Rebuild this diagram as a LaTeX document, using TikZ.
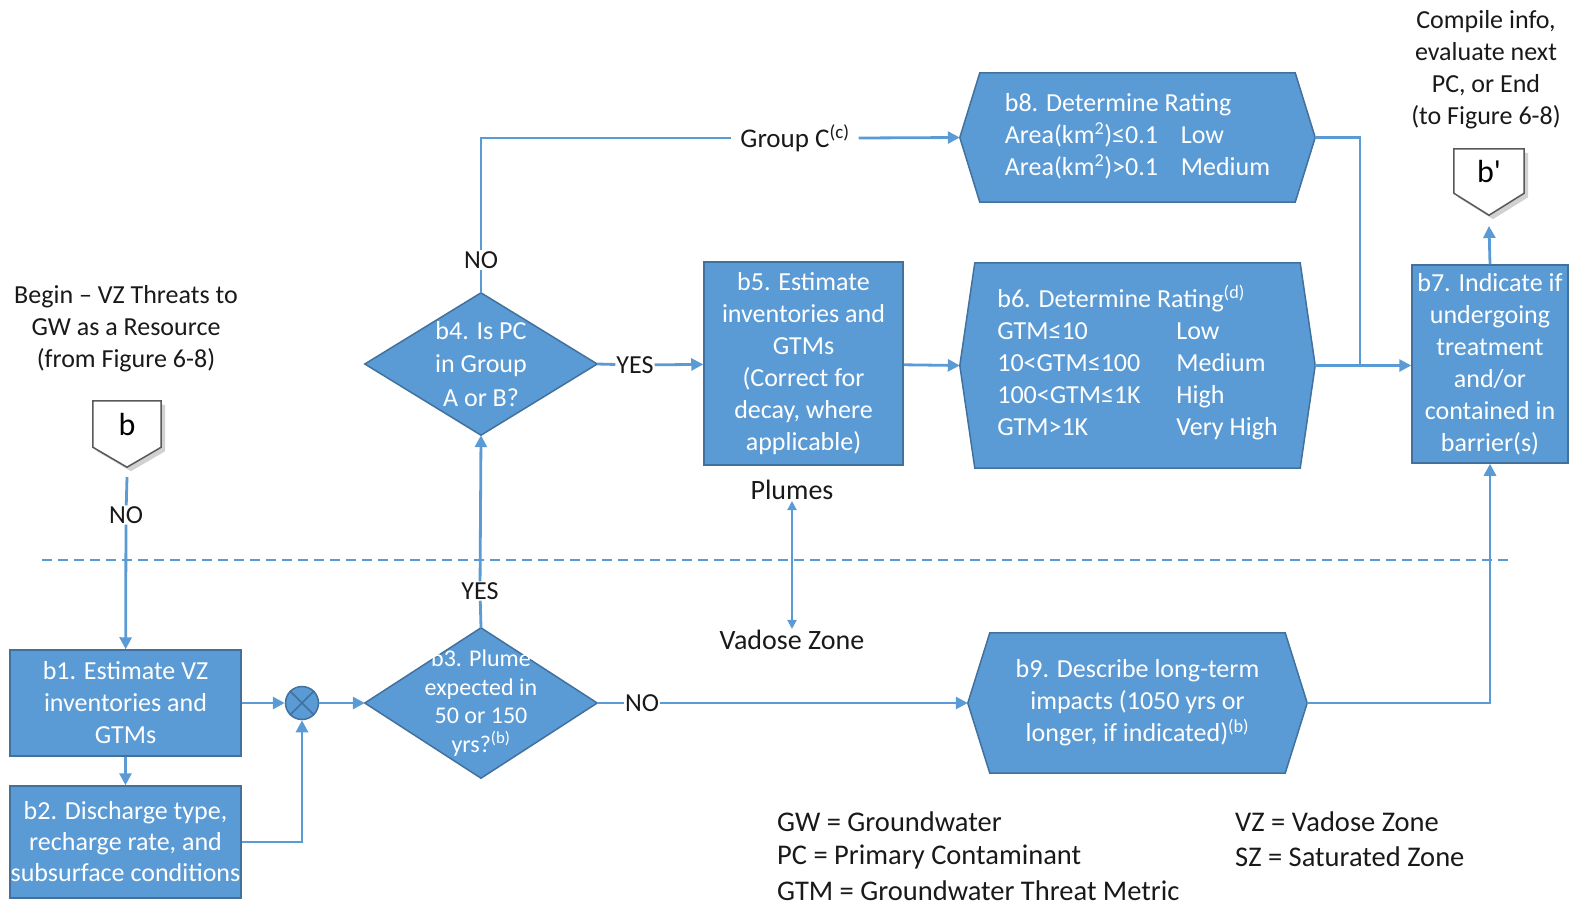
\documentclass[tikz,border=0pt]{standalone}
\usepackage{fontspec}
\setmainfont{Carlito}
\usetikzlibrary{arrows.meta,calc,backgrounds}
\definecolor{boxblue}{HTML}{5B9BD5}
\definecolor{boxedge}{HTML}{41719C}
\definecolor{lineblue}{HTML}{5B9BD5}
\definecolor{pentedge}{HTML}{595959}
\newcommand\fsz[2]{\fontsize{#1}{#2}\selectfont}
\begin{document}
\begin{tikzpicture}[x=1pt,y=-1pt,
  box/.style={rectangle, fill=boxblue, draw=boxedge, line width=1.5pt, text=white, align=center, inner sep=0pt, font=\fsz{26}{32}},
  shapetxt/.style={inner sep=0pt, text=white, font=\fsz{26}{32}},
  shapeline/.style={fill=boxblue, draw=boxedge, line width=1.5pt, line join=miter},
  conn/.style={draw=lineblue, line width=2.8pt},
  arr/.style={conn, -{Triangle[length=12pt,width=12pt]}},
  dbl/.style={draw=lineblue, line width=2pt, {Triangle[length=9pt,width=9pt]}-{Triangle[length=9pt,width=9pt]}},
  lbl/.style={text=black!90, font=\fsz{26}{32}, inner sep=1pt},
  pent/.style={fill=white, draw=pentedge, line width=1.5pt},
  pshadow/.style={fill=black!18, draw=none},
]
\useasboundingbox (0,0) rectangle (1572,906);

% dashed separator
\coordinate (dl) at (42,560);
\coordinate (dr) at (1510,560);
\draw[draw=lineblue, line width=2.4pt, dash pattern=on 10pt off 6pt] (dl) -- (dr);

% texts
\node[lbl, align=center] (begin) at (126,329) {Begin – VZ Threats to\\GW as a Resource\\(from Figure 6-8)};
\node[lbl, align=center] (compile) at (1486,70) {Compile info,\\evaluate next\\PC, or End\\(to Figure 6-8)};

% pentagon b
\node[inner sep=0pt, minimum width=68pt, minimum height=46pt, font=\fsz{32}{36}] (b) at (127,424) {b};
\begin{pgfonlayer}{background}
\fill[pshadow] ($(b.north west)+(4,4)$) -- ($(b.north east)+(4,4)$) -- ($(b.south east)+(4,4)$) -- ($(b.south)+(4,24)$) -- ($(b.south west)+(4,4)$) -- cycle;
\draw[pent] (b.north west) -- (b.north east) -- (b.south east) -- ($(b.south)+(0,20)$) -- (b.south west) -- cycle;
\end{pgfonlayer}
\coordinate (bout) at (127,477);

% pentagon b'
\node[inner sep=0pt, minimum width=70pt, minimum height=44pt, font=\fsz{32}{36}] (bp) at (1489,171) {b\textquotesingle};
\begin{pgfonlayer}{background}
\fill[pshadow] ($(bp.north west)+(4,4)$) -- ($(bp.north east)+(4,4)$) -- ($(bp.south east)+(4,4)$) -- ($(bp.south)+(4,26)$) -- ($(bp.south west)+(4,4)$) -- cycle;
\draw[pent] (bp.north west) -- (bp.north east) -- (bp.south east) -- ($(bp.south)+(0,22)$) -- (bp.south west) -- cycle;
\end{pgfonlayer}
\coordinate (bpin) at (1489,226);

% boxes
\node[box, minimum width=231pt, minimum height=106pt] (b1) at (125.5,703) {b1. Estimate VZ\\inventories and\\GTMs};
\node[box, minimum width=231pt, minimum height=112pt, font=\fsz{26}{31}] (b2) at (125.5,842) {b2. Discharge type,\\recharge rate, and\\subsurface conditions};
\node[box, minimum width=199pt, minimum height=203pt] (b5) at (803.5,363.5) {b5. Estimate\\inventories and\\GTMs\\(Correct for\\decay, where\\applicable)};
\node[box, minimum width=156pt, minimum height=198pt] (b7) at (1490,364) {b7. Indicate if\\undergoing\\treatment\\and/or\\contained in\\barrier(s)};

% circle X
\node[circle, fill=boxblue, draw=boxedge, line width=1.5pt, minimum size=33pt, inner sep=0pt] (cx) at (302,703) {};
\draw[boxedge, line width=1.5pt] (cx.45) -- (cx.225) (cx.135) -- (cx.315);

% diamonds
\node[shapetxt, minimum width=232pt, minimum height=142pt, align=center, font=\fsz{26}{33.5}] (b4) at (481,364) {b4. Is PC\\in Group\\A or B?};
\node[shapetxt, minimum width=232pt, minimum height=150pt, align=center, font=\fsz{24}{28.5}] (b3) at (481,703) {b3. Plume\\expected in\\50 or 150\\yrs?\textsuperscript{(b)}};
\begin{pgfonlayer}{background}
\draw[shapeline] (b4.north) -- (b4.east) -- (b4.south) -- (b4.west) -- cycle;
\draw[shapeline] (b3.north) -- (b3.east) -- (b3.south) -- (b3.west) -- cycle;
\end{pgfonlayer}

% hexagons
\node[shapetxt, minimum width=355pt, minimum height=205pt, align=left] (b6) at (1137.5,365.5) {\begin{tabular}{@{}p{179pt}@{}l@{}}\multicolumn{2}{@{}l@{}}{b6. Determine Rating\textsuperscript{(d)}}\\ GTM≤10 & Low\\ 10<GTM≤100 & Medium\\ 100<GTM≤1K & High\\ GTM>1K & Very High\end{tabular}};
\node[shapetxt, minimum width=355pt, minimum height=129pt, align=left] (b8) at (1137.5,137.5) {\begin{tabular}{@{}p{176pt}@{}l@{}}\multicolumn{2}{@{}l@{}}{b8. Determine Rating}\\ Area(km\textsuperscript{2})≤0.1 & Low\\ Area(km\textsuperscript{2})>0.1 & Medium\end{tabular}};
\node[shapetxt, minimum width=339pt, minimum height=140pt, align=center] (b9) at (1137.5,703) {b9. Describe long-term\\impacts (1050 yrs or\\longer, if indicated)\textsuperscript{(b)}};
\begin{pgfonlayer}{background}
\draw[shapeline] (b6.west) -- ($(b6.north west)+(15,0)$) -- ($(b6.north east)+(-15,0)$) -- (b6.east) -- ($(b6.south east)+(-15,0)$) -- ($(b6.south west)+(15,0)$) -- cycle;
\draw[shapeline] (b8.west) -- ($(b8.north west)+(20,0)$) -- ($(b8.north east)+(-20,0)$) -- (b8.east) -- ($(b8.south east)+(-20,0)$) -- ($(b8.south west)+(20,0)$) -- cycle;
\draw[shapeline] (b9.west) -- ($(b9.north west)+(22,0)$) -- ($(b9.north east)+(-22,0)$) -- (b9.east) -- ($(b9.south east)+(-22,0)$) -- ($(b9.south west)+(22,0)$) -- cycle;
\end{pgfonlayer}

% labels on connectors
\node[lbl] (no0) at (126,515) {NO};
\node[lbl] (yes3) at (480,591) {YES};
\node[lbl] (no3) at (642,703) {NO};
\node[lbl] (yes4) at (635,365) {YES};
\node[lbl] (no4) at (481,260) {NO};
\node[lbl, inner sep=9pt, font=\fsz{27}{32}] (grpC) at (795,138) {Group C\textsuperscript{(c)}};
\node[lbl, font=\fsz{28}{32}] (plumes) at (792,490) {Plumes};
\node[lbl, font=\fsz{28}{32}] (vadose) at (792,640) {Vadose Zone};

% connectors
\draw[conn] (bout) -- (no0);
\draw[arr] (no0) -- (b1);
\draw[arr] (b1) -- (b2);
\draw[arr] (b1) -- (cx);
\draw[arr] (b2.east) -| (cx.south);
\draw[arr] (cx) -- (b3.west);
\draw[conn] (b3.north) -- (yes3);
\draw[arr] (yes3) -- (b4.south);
\draw[conn] (b3.east) -- (no3);
\draw[arr] (no3) -- (b9.west);
\draw[conn] (b4.east) -- (yes4);
\draw[arr] (yes4) -- (b5);
\draw[conn] (b4.north) -- (no4);
\draw[conn] (no4.north) |- (grpC.west);
\draw[arr] (grpC.east) -- (b8.west);
\draw[arr] (b5) -- (b6.west);
\coordinate (j) at (1360,365);
\draw[conn] (b8.east) -| (j);
\draw[arr] (b6.east) -- (b7.west |- b6.east);
\draw[arr] (b9.east) -| (b7.south);
\draw[arr] (b7.north) -- (bpin);
\draw[dbl] (plumes.south) -- (vadose.north);

% legend
\node[lbl, anchor=west, font=\fsz{28.5}{32}] (lg1) at (776,822) {GW = Groundwater};
\node[lbl, anchor=west, font=\fsz{28.5}{32}] (lg2) at (776,857) {PC = Primary Contaminant};
\node[lbl, anchor=west, font=\fsz{28.5}{32}] (lg3) at (776,891) {GTM = Groundwater Threat Metric};
\node[lbl, anchor=west, font=\fsz{28.5}{32}] (lg4) at (1234,822) {VZ = Vadose Zone};
\node[lbl, anchor=west, font=\fsz{28.5}{32}] (lg5) at (1234,857) {SZ = Saturated Zone};
\end{tikzpicture}
\end{document}
